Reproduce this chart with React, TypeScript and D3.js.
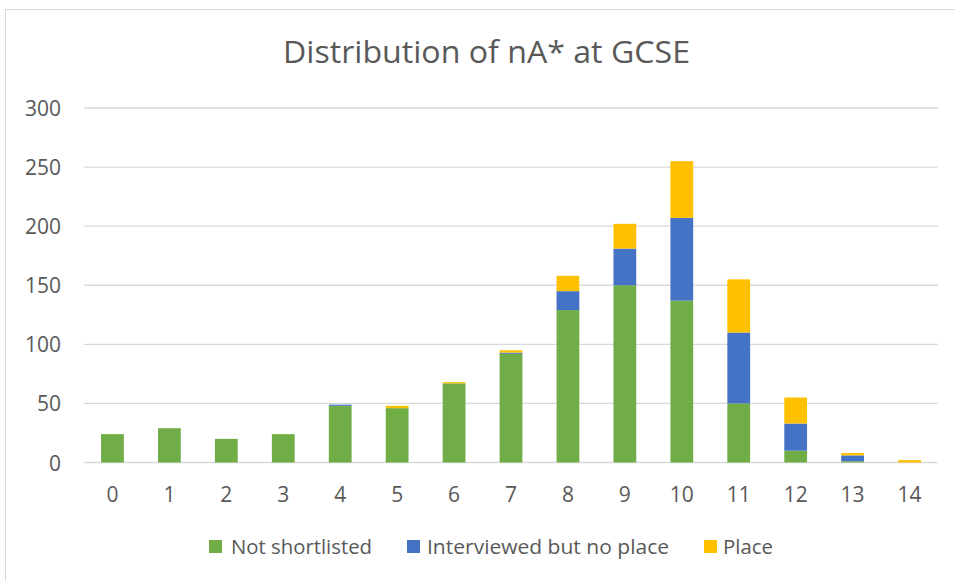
import React from "react";
import * as d3 from "d3";

const categories = ["0","1","2","3","4","5","6","7","8","9","10","11","12","13","14"];
const notShortlisted = [24, 29, 20, 24, 48, 46, 67, 92, 129, 150, 137, 50, 10, 1, 0];
const interviewed = [0, 0, 0, 0, 1, 0, 0, 1, 16, 31, 70, 60, 23, 5, 0];
const place = [0, 0, 0, 0, 0, 2, 1, 2, 13, 21, 48, 45, 22, 2, 2];
const seriesNames = ["Not shortlisted", "Interviewed but no place", "Place"];
const seriesColors = ["#70AD47", "#4472C4", "#FFC000"];
const yTicks = [0, 50, 100, 150, 200, 250, 300];

const W = 955, H = 581;
const plot = { left: 84, right: 938, top: 108, bottom: 462.5 };
const FONT = "'Open Sans', 'Noto Sans', sans-serif";

export default function App() {
  const rows = categories.map((c, i) => ({
    cat: c,
    s0: notShortlisted[i],
    s1: interviewed[i],
    s2: place[i],
  }));
  const stack = d3.stack<any>().keys(["s0", "s1", "s2"])(rows);
  const x = d3.scaleBand().domain(categories).range([plot.left, plot.right]).paddingInner(0.6).paddingOuter(0.3);
  const y = d3.scaleLinear().domain([0, 300]).range([plot.bottom, plot.top]);

  const legendItems = [
    { x: 209, tx: 231, w: 141, label: seriesNames[0] },
    { x: 407, tx: 427, w: 242, label: seriesNames[1] },
    { x: 704, tx: 723, w: 50, label: seriesNames[2] },
  ];

  return (
    <svg width={W} height={H} style={{ position: "absolute", left: 0, top: 0, background: "#fff" }}>
      <rect x={5.5} y={9.5} width={W - 5} height={H - 9} fill="#fff" stroke="#D9D9D9" strokeWidth={1} />
      <text x={283} y={63} fontFamily={FONT} fontSize={31} fill="#595959" textLength={407} lengthAdjust="spacingAndGlyphs">
        Distribution of nA* at GCSE
      </text>
      {yTicks.map((t) => (
        <g key={t}>
          <line x1={plot.left} x2={plot.right} y1={y(t)} y2={y(t)} stroke="#D9D9D9" strokeWidth={1.3} />
          <text x={61} y={y(t) + 8} textAnchor="end" fontFamily={FONT} fontSize={21} fill="#595959">
            {t}
          </text>
        </g>
      ))}
      {stack.map((layer, si) => (
        <g key={si} fill={seriesColors[si]}>
          {layer.map((d: any, i: number) => {
            const h = y(d[0]) - y(d[1]);
            if (h <= 0) return null;
            return (
              <rect key={i} x={x(categories[i])} y={y(d[1])} width={x.bandwidth()} height={h} />
            );
          })}
        </g>
      ))}
      {categories.map((c) => (
        <text key={c} x={(x(c) as number) + x.bandwidth() / 2} y={502} textAnchor="middle" fontFamily={FONT} fontSize={21} fill="#595959">
          {c}
        </text>
      ))}
      {legendItems.map((it, i) => (
        <g key={i}>
          <rect x={it.x} y={540} width={13} height={13} fill={seriesColors[i]} />
          <text x={it.tx} y={554} fontFamily={FONT} fontSize={20} fill="#595959" textLength={it.w} lengthAdjust="spacingAndGlyphs">
            {it.label}
          </text>
        </g>
      ))}
    </svg>
  );
}
